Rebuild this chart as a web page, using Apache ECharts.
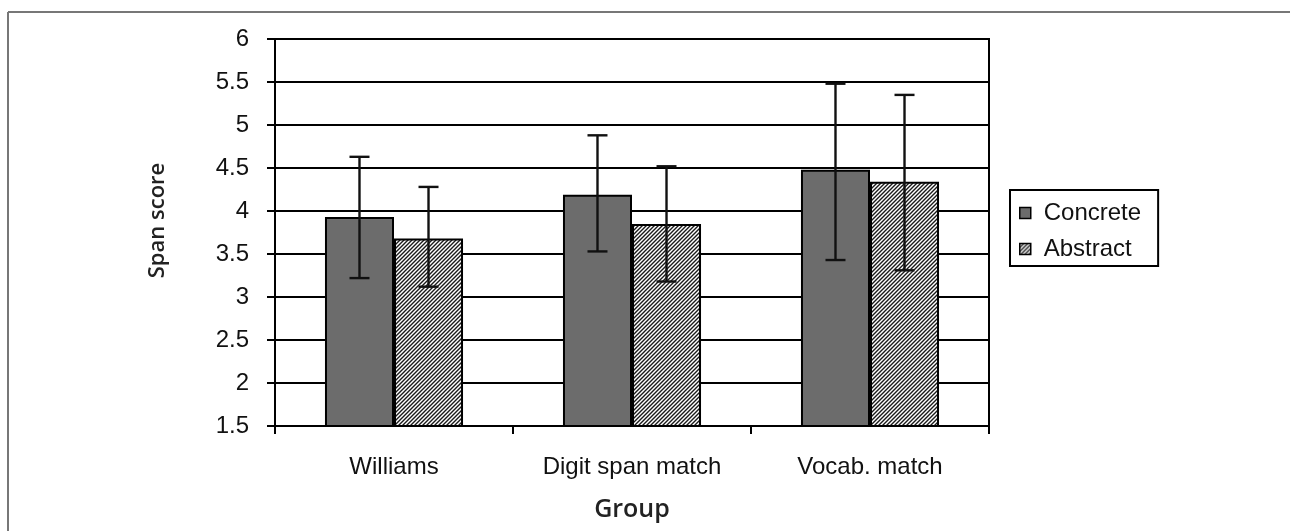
<!DOCTYPE html>
<html>
<head>
<meta charset="utf-8">
<script src="https://cdn.jsdelivr.net/npm/echarts@6/dist/echarts.min.js"></script>
<style>
html,body{margin:0;padding:0;background:#fff;}
#chart{width:1290px;height:531px;}
</style>
</head>
<body>
<div id="chart"></div>
<script>
const categories = ['Williams', 'Digit span match', 'Vocab. match'];
const concreteMean = [3.93, 4.19, 4.48];
const concreteHigh = [4.63, 4.88, 5.48];
const concreteLow = [3.22, 3.53, 3.43];
const abstractMean = [3.68, 3.85, 4.34];
const abstractHigh = [4.28, 4.52, 5.35];
const abstractLow = [3.12, 3.18, 3.31];
const yTicks = { min: 1.5, max: 6, interval: 0.5 };

function hatch() {
  const c = document.createElement('canvas');
  c.width = 4; c.height = 4;
  const g = c.getContext('2d');
  g.fillStyle = '#ffffff';
  g.fillRect(0, 0, 4, 4);
  g.strokeStyle = '#1a1a1a';
  g.lineWidth = 1.4;
  g.beginPath();
  g.moveTo(-1, 5); g.lineTo(5, -1);
  g.moveTo(-1, 1); g.lineTo(1, -1);
  g.moveTo(3, 5); g.lineTo(5, 3);
  g.stroke();
  return c;
}
const hatchFill = { image: hatch(), repeat: 'repeat' };

const gapRatio = 0.42;
function errRender(sign) {
  return function (params, api) {
    const idx = api.value(0);
    const hi = api.coord([idx, api.value(1)]);
    const lo = api.coord([idx, api.value(2)]);
    const band = api.size([1, 0])[0];
    const bw = band * (1 - gapRatio) / 2;
    const x = hi[0] + sign * bw / 2;
    const cap = 10;
    const st = { stroke: '#111', lineWidth: 2.4 };
    return {
      type: 'group',
      children: [
        { type: 'line', shape: { x1: x, y1: hi[1], x2: x, y2: lo[1] }, style: st },
        { type: 'line', shape: { x1: x - cap, y1: hi[1], x2: x + cap, y2: hi[1] }, style: st },
        { type: 'line', shape: { x1: x - cap, y1: lo[1], x2: x + cap, y2: lo[1] }, style: st }
      ]
    };
  };
}

const chart = echarts.init(document.getElementById('chart'));
const fontFam = '"Liberation Sans", Arial, sans-serif';
chart.setOption({
  animation: false,
  backgroundColor: '#fff',
  grid: { left: 275, right: 301, top: 39, bottom: 105, show: true, borderColor: '#000', borderWidth: 2, backgroundColor: 'transparent' },
  graphic: [
    { type: 'line', shape: { x1: 8, y1: 12, x2: 1290, y2: 12 }, style: { stroke: '#777', lineWidth: 2 } },
    { type: 'line', shape: { x1: 8, y1: 12, x2: 8, y2: 531 }, style: { stroke: '#777', lineWidth: 2 } }
  ],
  legend: {
    orient: 'vertical',
    left: 1010, top: 190,
    padding: [11, 17, 5, 9],
    borderColor: '#000', borderWidth: 2,
    itemWidth: 11, itemHeight: 11, itemGap: 12,
    icon: 'rect',
    itemStyle: { borderColor: '#000', borderWidth: 1.5 },
    textStyle: { fontFamily: fontFam, fontSize: 24, color: '#111', padding: [0, 0, 0, 8] },
    data: ['Concrete', 'Abstract']
  },
  xAxis: {
    type: 'category',
    data: categories,
    name: 'Group',
    nameLocation: 'middle',
    nameGap: 71,
    nameTextStyle: { fontFamily: '"Open Sans", sans-serif', fontWeight: 600, fontSize: 25, color: '#222' },
    axisLine: { lineStyle: { color: '#000', width: 2 } },
    axisTick: { show: true, length: 8, lineStyle: { color: '#000', width: 2 } },
    axisLabel: { fontFamily: fontFam, fontSize: 24, color: '#111', margin: 29 }
  },
  yAxis: {
    type: 'value',
    min: yTicks.min, max: yTicks.max, interval: yTicks.interval,
    name: 'Span score',
    nameLocation: 'middle',
    nameRotate: 90,
    nameGap: 106,
    nameTextStyle: { fontFamily: '"Open Sans", sans-serif', fontWeight: 600, fontSize: 22, color: '#222', padding: [0, 0, 0, 24] },
    axisLine: { show: true, lineStyle: { color: '#000', width: 2 } },
    axisTick: { show: true, length: 8, lineStyle: { color: '#000', width: 2 } },
    axisLabel: { fontFamily: fontFam, fontSize: 24, color: '#111', margin: 26 },
    splitLine: { show: true, lineStyle: { color: '#000', width: 2 } }
  },
  series: [
    {
      name: 'Concrete', type: 'bar', data: concreteMean,
      barGap: '0%', barCategoryGap: (gapRatio * 100) + '%',
      itemStyle: { color: '#6c6c6c', borderColor: '#000', borderWidth: 2 }
    },
    {
      name: 'Abstract', type: 'bar', data: abstractMean,
      barGap: '0%', barCategoryGap: (gapRatio * 100) + '%',
      itemStyle: { color: hatchFill, borderColor: '#000', borderWidth: 2 }
    },
    {
      type: 'custom', name: 'cerr', renderItem: errRender(-1), z: 10,
      encode: { x: 0, y: [1, 2] },
      data: categories.map((c, i) => [i, concreteHigh[i], concreteLow[i]])
    },
    {
      type: 'custom', name: 'aerr', renderItem: errRender(1), z: 10,
      encode: { x: 0, y: [1, 2] },
      data: categories.map((c, i) => [i, abstractHigh[i], abstractLow[i]])
    }
  ]
});
</script>
</body>
</html>
